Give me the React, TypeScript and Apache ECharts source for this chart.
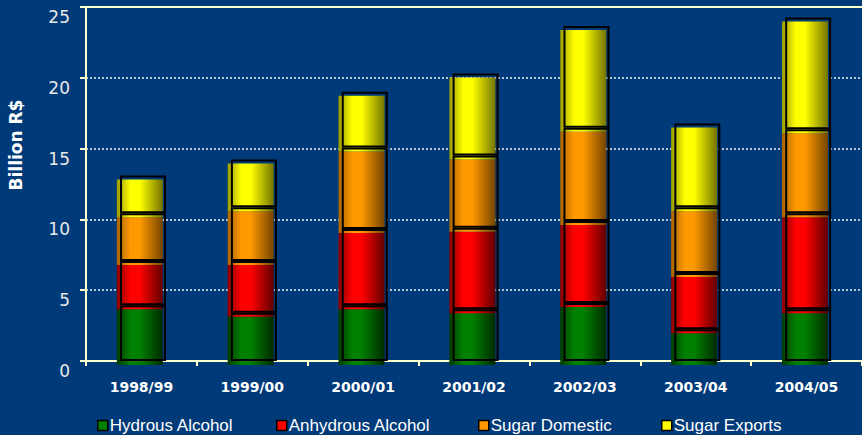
import React, { useEffect, useRef } from "react";
import * as echarts from "echarts";

const categories = ["1998/99", "1999/00", "2000/01", "2001/02", "2002/03", "2003/04", "2004/05"];
const hydrous = [3.94, 3.4, 3.94, 3.66, 4.1, 2.25, 3.66];
const anhydrous = [3.12, 3.66, 5.38, 5.75, 5.78, 3.97, 6.78];
const sugarDomestic = [3.38, 3.79, 5.75, 5.1, 6.6, 4.63, 5.92];
const sugarExports = [2.66, 3.38, 3.94, 5.79, 7.18, 5.93, 7.89];
const seriesNames = ["Hydrous Alcohol", "Anhydrous Alcohol", "Sugar Domestic", "Sugar Exports"];
const yTicks = { min: 0, max: 25, interval: 5 };

const palette = [
  { dark: "#003a00", mid: "#008000", right: "#002a00", flat: "#008000" },
  { dark: "#8a0000", mid: "#ff0000", right: "#600000", flat: "#ff0000" },
  { dark: "#a86400", mid: "#ff9900", right: "#744400", flat: "#ff9900" },
  { dark: "#9a9a00", mid: "#ffff00", right: "#747400", flat: "#ffff00" },
];

const grad = (p: any) =>
  new echarts.graphic.LinearGradient(0, 0, 1, 0, [
    { offset: 0, color: p.dark },
    { offset: 0.3, color: p.mid },
    { offset: 0.5, color: p.mid },
    { offset: 1, color: p.right },
  ]);

export default function App() {
  const ref = useRef<HTMLDivElement>(null);
  useEffect(() => {
    if (!ref.current) return;
    const chart = echarts.init(ref.current, null, { renderer: "svg" });
    const values = [hydrous, anhydrous, sugarDomestic, sugarExports];
    const pxPerUnit = 354 / 25;
    const shift = 4 / pxPerUnit;
    const colored = values.map((d, i) => ({
      name: seriesNames[i],
      type: "bar",
      stack: "c",
      yAxisIndex: 1,
      barWidth: 46,
      barGap: "-93%",
      clip: false,
      data: d,
      itemStyle: { color: grad(palette[i]) },
      z: 2,
    }));
    const outlines = values.map((d, i) => ({
      name: "outline" + i,
      type: "bar",
      stack: "o",
      yAxisIndex: 0,
      barWidth: 46,
      barGap: "-93%",
      data: d,
      itemStyle: { color: "rgba(0,0,0,0)", borderColor: "#000", borderWidth: 2 },
      z: 3,
    }));
    const legendX = [97, 276, 478, 661];
    const legends = seriesNames.map((n, i) => ({
      left: legendX[i],
      top: 417,
      padding: 0,
      icon: "rect",
      itemWidth: 10,
      itemHeight: 10,
      itemGap: 0,
      selectedMode: false,
      textStyle: { color: "#ffffff", fontFamily: "Arial", fontSize: 17, padding: [0, 0, 0, -3] },
      data: [{ name: n, itemStyle: { color: palette[i].flat, borderColor: "#000", borderWidth: 1.5 } }],
    }));
    chart.setOption({
      animation: false,
      backgroundColor: "#003a78",
      grid: { left: 86, right: -8, top: 7, bottom: 74, containLabel: false },
      legend: legends,
      graphic: [
        {
          type: "text",
          x: 16,
          y: 145,
          rotation: Math.PI / 2,
          style: {
            text: "Billion R$",
            fill: "#ffffff",
            font: "bold 17px 'DejaVu Sans'",
            align: "center",
            verticalAlign: "middle",
          },
        },
      ],
      xAxis: [
        {
          type: "category",
          data: categories,
          axisLine: { lineStyle: { color: "#ffffcc", width: 2 } },
          axisTick: { show: true, length: 5, lineStyle: { color: "#ffffcc", width: 2 } },
          axisLabel: {
            color: "#ffffff",
            fontFamily: "DejaVu Sans",
            fontWeight: "bold",
            fontSize: 14,
            margin: 19,
          },
        },
        {
          type: "category",
          position: "top",
          data: categories,
          axisLine: { lineStyle: { color: "#ffffcc", width: 2 } },
          axisTick: { show: false },
          axisLabel: { show: false },
        },
      ],
      yAxis: [
        {
          type: "value",
          min: yTicks.min,
          max: yTicks.max,
          interval: yTicks.interval,
          axisLine: { show: true, lineStyle: { color: "#ffffcc", width: 2 } },
          axisTick: { show: true, length: 6, lineStyle: { color: "#ffffcc", width: 2 } },
          axisLabel: {
            color: "#e8e8e8",
            fontFamily: "DejaVu Sans",
            fontSize: 17,
            margin: 16,
            verticalAlign: "top",
            lineHeight: 20,
          },
          splitLine: { show: true, lineStyle: { color: "#b8c2d4", width: 2, type: [2, 2] } },
        },
        {
          type: "value",
          min: yTicks.min + shift,
          max: yTicks.max + shift,
          show: false,
          splitLine: { show: false },
        },
      ],
      series: [...colored, ...outlines],
    });
    return () => chart.dispose();
  }, []);
  return <div ref={ref} style={{ width: 862, height: 435, position: "absolute", left: 0, top: 0 }} />;
}
